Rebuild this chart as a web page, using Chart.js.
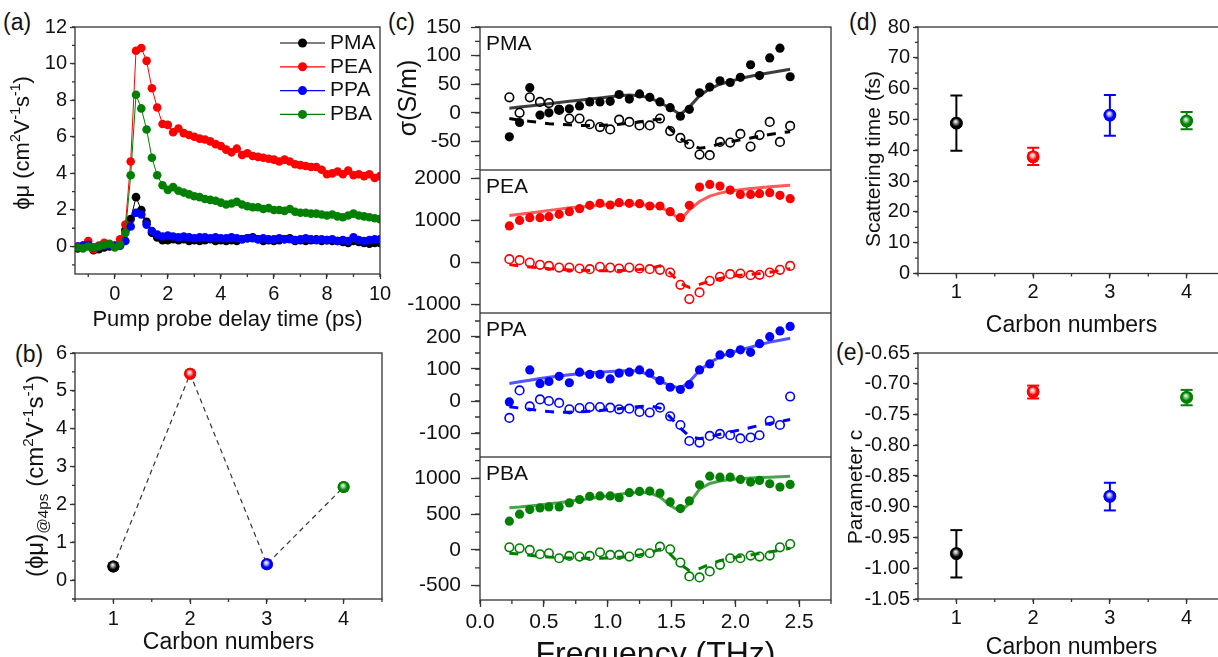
<!DOCTYPE html>
<html><head><meta charset="utf-8">
<script src="https://cdn.jsdelivr.net/npm/chart.js@4.4.1/dist/chart.umd.min.js"></script>
<style>
html,body{margin:0;padding:0;background:#fff;overflow:hidden;width:1218px;height:657px;position:relative;}
canvas{position:absolute;}
.pl{position:absolute;font-family:"Liberation Sans",Arial,sans-serif;font-size:23px;line-height:23px;color:#111;}
</style></head><body>
<div class="pl" style="left:3px;top:11px">(a)</div>
<div class="pl" style="left:15px;top:343px">(b)</div>
<div class="pl" style="left:388px;top:11px">(c)</div>
<div class="pl" style="left:849px;top:11px">(d)</div>
<div class="pl" style="left:836px;top:341px">(e)</div>
<canvas id="cA" width="395" height="334" style="left:0;top:0"></canvas>
<canvas id="cB" width="400" height="327" style="left:0;top:330px"></canvas>
<canvas id="cC1" width="460" height="170" style="left:380px;top:0"></canvas>
<canvas id="cC2" width="460" height="143" style="left:380px;top:170px"></canvas>
<canvas id="cC3" width="460" height="144" style="left:380px;top:313px"></canvas>
<canvas id="cC4" width="460" height="223" style="left:380px;top:457px"></canvas>
<canvas id="cD" width="400" height="340" style="left:830px;top:0"></canvas>
<canvas id="cE" width="400" height="340" style="left:830px;top:330px"></canvas>
<script>
// ================= DATA =================
const sampleNames = ['PMA', 'PEA', 'PPA', 'PBA'];

// (a) transient photoconductivity vs pump-probe delay
const delayTimes = [-1.4,-1.2,-1.0,-0.8,-0.6,-0.4,-0.2,0.0,0.2,0.4,0.6,0.8,1.0,1.2,1.4,1.6,1.8,2.0,2.2,2.4,2.6,2.8,3.0,3.2,3.4,3.6,3.8,4.0,4.2,4.4,4.6,4.8,5.0,5.2,5.4,5.6,5.8,6.0,6.2,6.4,6.6,6.8,7.0,7.2,7.4,7.6,7.8,8.0,8.2,8.4,8.6,8.8,9.0,9.2,9.4,9.6,9.8,10.0];
const phiMuPMA = [-0.1,-0.05,0.05,-0.2,-0.15,-0.05,0.0,0.05,0.1,0.9,1.5,2.7,2.0,1.35,0.75,0.5,0.35,0.35,0.4,0.35,0.4,0.3,0.35,0.3,0.35,0.4,0.3,0.35,0.3,0.35,0.3,0.4,0.45,0.5,0.4,0.3,0.35,0.3,0.35,0.4,0.45,0.3,0.35,0.3,0.35,0.4,0.3,0.35,0.3,0.3,0.25,0.2,0.3,0.25,0.2,0.15,0.2,0.2];
const phiMuPEA = [0.0,0.05,0.3,-0.15,0.05,0.2,0.1,0.0,0.4,1.2,4.65,10.7,10.85,10.15,8.65,7.6,6.7,6.65,6.25,6.45,6.2,6.1,6.0,5.9,5.85,5.75,5.6,5.5,5.3,5.15,5.35,5.0,5.1,4.95,4.9,4.85,4.8,4.75,4.65,4.75,4.65,4.5,4.45,4.4,4.35,4.35,4.2,3.95,4.0,4.1,3.95,4.15,3.9,3.95,3.85,3.95,3.75,3.85];
const phiMuPPA = [0.0,0.05,0.1,-0.05,0.0,0.05,0.1,0.0,0.05,0.3,1.1,1.85,1.75,1.2,0.85,0.65,0.55,0.6,0.55,0.5,0.55,0.5,0.45,0.5,0.5,0.45,0.5,0.45,0.45,0.5,0.45,0.4,0.45,0.45,0.4,0.45,0.4,0.4,0.45,0.4,0.4,0.35,0.4,0.45,0.4,0.35,0.4,0.35,0.4,0.3,0.35,0.3,0.5,0.35,0.3,0.35,0.4,0.4];
const phiMuPBA = [-0.05,-0.1,0.0,-0.05,0.0,0.1,0.15,-0.05,0.1,0.75,3.9,8.3,7.55,6.4,4.85,3.9,3.35,3.1,3.25,3.05,2.95,2.85,2.75,2.7,2.6,2.55,2.5,2.4,2.3,2.35,2.45,2.3,2.2,2.15,2.15,2.05,2.1,2.0,2.0,1.95,2.05,1.9,1.85,1.85,1.8,1.8,1.75,1.7,1.75,1.65,1.6,1.7,1.8,1.7,1.65,1.6,1.55,1.5];

// (b) photoconductivity at 4 ps
const carbonNumbers = [1, 2, 3, 4];
const phiMuAt4ps = [0.36, 5.45, 0.42, 2.46];

// (c) complex conductivity spectra
const freqTHz = [0.23,0.31,0.39,0.47,0.54,0.62,0.70,0.78,0.86,0.94,1.02,1.09,1.17,1.25,1.33,1.41,1.49,1.57,1.64,1.72,1.80,1.88,1.96,2.04,2.12,2.19,2.27,2.35,2.43];
const reSigmaPMA = [-42,-17,44,-4,0,6,7,12,19,19,20,32,24,33,27,19,9,-6,6,35,45,56,53,62,84,65,96,113,63];
const imSigmaPMA = [27,0,27,19,17,5,-10,-10,-20,-25,-29,-12,-16,-22,-22,-10,-32,-44,-55,-73,-74,-51,-52,-37,-59,-39,-16,-51,-23];
const reFitPMA = [8,10,12,14,16,18,20,22,24,26,28,30,31,30,26,18,8,-3,10,30,42,50,55,60,64,67,70,73,76];
const imFitPMA = [-10,-13,-15,-17,-19,-20,-21,-22,-22,-22,-21,-20,-18,-16,-13,-11,-28,-45,-55,-62,-60,-54,-51,-47,-44,-41,-38,-35,-33];
const reSigmaPEA = [870,1000,1067,1067,1090,1146,1210,1280,1360,1407,1368,1423,1407,1400,1344,1344,1210,1067,1360,1795,1858,1818,1723,1620,1620,1636,1660,1597,1518];
const imSigmaPEA = [80,55,0,-55,-80,-120,-120,-142,-158,-103,-120,-142,-120,-142,-158,-174,-237,-530,-870,-711,-435,-340,-277,-261,-300,-292,-237,-174,-80];
const reFitPEA = [1120,1150,1180,1210,1240,1270,1300,1320,1340,1360,1380,1390,1390,1380,1360,1320,1200,1010,1250,1450,1580,1650,1700,1730,1760,1780,1800,1820,1840];
const imFitPEA = [-50,-80,-105,-125,-145,-160,-175,-185,-190,-195,-195,-190,-180,-165,-140,-80,-250,-500,-590,-520,-440,-380,-330,-300,-280,-260,-230,-190,-150];
const reSigmaPPA = [-3,null,97,54,61,77,57,90,83,83,69,87,90,97,87,64,43,36,51,97,116,144,149,160,152,179,201,219,233];
const imSigmaPPA = [-53,33,-17,5,0,-6,-26,-22,-19,-19,-21,-26,-24,-34,-36,-21,-48,-75,-125,-130,-109,-103,-107,-117,-114,-107,-62,-75,14];
const reFitPPA = [55,60,65,70,74,78,82,85,88,90,92,94,95,93,80,62,48,40,60,95,120,138,150,160,168,176,184,190,196];
const imFitPPA = [-18,-22,-26,-30,-33,-35,-35,-34,-32,-30,-27,-24,-20,-17,-15,-22,-50,-85,-110,-118,-112,-104,-97,-90,-83,-76,-70,-64,-58];
const reSigmaPBA = [403,500,565,588,602,602,657,704,750,755,755,731,801,819,824,796,671,579,685,912,1032,1018,1018,986,949,972,926,880,917];
const imSigmaPBA = [37,23,0,-60,-46,-116,-83,-93,-83,-32,-69,-69,-93,-46,-46,46,9,-176,-370,-384,-301,-208,-116,-116,-79,-93,-79,37,83];
const reFitPBA = [590,600,615,630,645,660,680,700,720,740,760,780,795,805,800,740,620,540,650,850,930,965,985,995,1005,1012,1018,1024,1030];
const imFitPBA = [-45,-60,-75,-88,-98,-106,-112,-115,-116,-115,-110,-102,-90,-70,-40,10,-60,-200,-290,-260,-200,-150,-115,-90,-70,-50,-30,-5,25];

// (d) scattering time with error bounds
const scatteringTime = [48.8, 37.9, 51.4, 49.5];
const scatteringTimeLow = [39.8, 35.2, 44.7, 46.8];
const scatteringTimeHigh = [57.8, 40.8, 57.9, 52.4];

// (e) parameter c with error bounds
const parameterC = [-0.976, -0.713, -0.883, -0.722];
const parameterCLow = [-1.015, -0.724, -0.906, -0.735];
const parameterCHigh = [-0.938, -0.703, -0.861, -0.710];

// tick values
const ticksA_x = [0, 2, 4, 6, 8, 10];
const ticksA_y = [0, 2, 4, 6, 8, 10, 12];
const ticksCarbon = [1, 2, 3, 4];
const ticksB_y = [0, 1, 2, 3, 4, 5, 6];
const ticksFreq = [0, 0.5, 1.0, 1.5, 2.0, 2.5];
const ticksPMA_y = [-50, 0, 50, 100, 150];
const ticksPEA_y = [-1000, 0, 1000, 2000];
const ticksPPA_y = [-100, 0, 100, 200];
const ticksPBA_y = [-500, 0, 500, 1000];
const ticksD_y = [0, 10, 20, 30, 40, 50, 60, 70, 80];
const ticksE_y = [-1.05, -1.00, -0.95, -0.90, -0.85, -0.80, -0.75, -0.70, -0.65];

// ================= STYLE =================
const FONT = '"Liberation Sans", Arial, Helvetica, sans-serif';
const INK = '#111';
const AXIS = '#333';
const seriesColors = ['#000000', '#ff0000', '#0000ff', '#008000'];
const seriesLight = ['#9a9a9a', '#ffb0b0', '#b0b0ff', '#90d090'];
const fitColors = ['rgba(40,40,40,0.9)', 'rgba(255,50,50,0.8)', 'rgba(40,40,255,0.8)', 'rgba(30,140,30,0.8)'];
Chart.defaults.font.family = FONT;
Chart.defaults.color = INK;

const pts = (xs, ys) => xs.map((x, i) => ({x: x, y: ys[i]}));

// ================= PLUGINS =================
const framePlugin = {
  id: 'frameTicks',
  afterDraw(chart, args, o) {
    const {ctx, chartArea: a, scales} = chart;
    ctx.save();
    ctx.strokeStyle = AXIS;
    ctx.lineWidth = o.lw || 1.3;
    ctx.strokeRect(a.left, a.top, a.right - a.left, a.bottom - a.top);
    ['x', 'y'].forEach(id => {
      const m = o[id];
      if (!m) return;
      const s = scales[id];
      const k0 = Math.ceil(s.min / m.step - 1e-6), k1 = Math.floor(s.max / m.step + 1e-6);
      ctx.beginPath();
      for (let k = k0; k <= k1; k++) {
        const p = s.getPixelForValue(k * m.step);
        if (id === 'x') { ctx.moveTo(p, a.bottom); ctx.lineTo(p, a.bottom + m.len); }
        else { ctx.moveTo(a.left, p); ctx.lineTo(a.left - m.len, p); }
      }
      ctx.stroke();
    });
    ctx.restore();
  }
};

// shaded-sphere look for markers: drawn on the library's own point elements
const spherePlugin = {
  id: 'sphere',
  afterDatasetsDraw(chart) {
    const ctx = chart.ctx;
    chart.data.datasets.forEach((ds, di) => {
      if (!ds.sphere) return;
      const meta = chart.getDatasetMeta(di);
      meta.data.forEach((el, i) => {
        if (!isFinite(el.x) || !isFinite(el.y)) return;
        const r = ds.pointRadius;
        const col = seriesColors[i % 4];
        const g = ctx.createRadialGradient(el.x - r * 0.15, el.y - r * 0.3, 0, el.x, el.y, r);
        g.addColorStop(0, '#ffffff');
        g.addColorStop(0.3, seriesLight[i % 4]);
        g.addColorStop(0.65, col);
        g.addColorStop(1, col);
        ctx.save();
        ctx.fillStyle = g;
        ctx.beginPath(); ctx.arc(el.x, el.y, r, 0, Math.PI * 2); ctx.fill();
        ctx.restore();
      });
    });
  }
};

const richTitlePlugin = {
  id: 'richY',
  afterDraw(chart, args, o) {
    if (!o || !o.segs) return;
    const ctx = chart.ctx;
    ctx.save();
    ctx.translate(o.x, o.y);
    ctx.rotate(-Math.PI / 2);
    ctx.fillStyle = INK;
    ctx.textBaseline = 'alphabetic';
    let total = 0;
    const parts = o.segs.map(s => {
      const size = s.k ? o.size * 0.64 : o.size;
      ctx.font = size + 'px ' + FONT;
      const w = ctx.measureText(s.t).width;
      total += w;
      return {t: s.t, k: s.k, size: size, w: w};
    });
    let x = -total / 2;
    const base = o.size * 0.36;
    parts.forEach(p => {
      ctx.font = p.size + 'px ' + FONT;
      const dy = p.k === 'sup' ? -o.size * 0.4 : (p.k === 'sub' ? o.size * 0.22 : 0);
      ctx.fillText(p.t, x, base + dy);
      x += p.w;
    });
    ctx.restore();
  }
};

const legendPlugin = {
  id: 'legendA',
  afterDraw(chart, args, o) {
    if (!o || !o.x0) return;
    const ctx = chart.ctx;
    ctx.save();
    ctx.font = o.size + 'px ' + FONT;
    ctx.textBaseline = 'middle';
    chart.data.datasets.forEach((ds, i) => {
      const y = o.y0 + i * o.dy;
      ctx.strokeStyle = ds.borderColor; ctx.lineWidth = 1.2;
      ctx.beginPath(); ctx.moveTo(o.x0, y); ctx.lineTo(o.x1, y); ctx.stroke();
      ctx.fillStyle = ds.pointBackgroundColor;
      ctx.beginPath(); ctx.arc((o.x0 + o.x1) / 2, y, o.r, 0, Math.PI * 2); ctx.fill();
      ctx.fillStyle = INK;
      ctx.fillText(ds.label, o.tx, y);
    });
    ctx.restore();
  }
};

const panelTextPlugin = {
  id: 'panelText',
  afterDraw(chart, args, o) {
    if (!o || !o.text) return;
    const ctx = chart.ctx, a = chart.chartArea;
    ctx.save();
    ctx.font = o.size + 'px ' + FONT;
    ctx.fillStyle = INK;
    ctx.textBaseline = 'middle';
    ctx.fillText(o.text, a.left + 6, a.top + 17);
    ctx.restore();
  }
};

function axis(o) {
  return {
    type: 'linear', min: o.min, max: o.max, display: o.display !== false,
    grid: {display: true, drawOnChartArea: false, drawTicks: true, tickLength: o.tl, tickWidth: 1.3, tickColor: AXIS},
    border: {display: false},
    ticks: {autoSkip: false, maxRotation: 0, minRotation: 0, padding: o.pad, font: {size: o.fs}, color: INK,
            callback: o.fmt || (v => String(v))},
    title: o.title ? {display: true, text: o.title, font: {size: o.tfs}, color: INK, padding: o.tpad} : {display: false},
    afterBuildTicks: s => { s.ticks = o.ticks.map(v => ({value: v})); },
    afterFit: s => {
      if (o.horiz) s.height = o.size; else s.width = o.size;
      s.paddingTop = 0; s.paddingBottom = 0; s.paddingLeft = 0; s.paddingRight = 0;
    }
  };
}

const baseOpts = {responsive: false, animation: false, events: []};
const lay = (t, r) => ({autoPadding: false, padding: {top: t, right: r, bottom: 0, left: 0}});

// ================= (a) =================
const aSeries = [phiMuPMA, phiMuPEA, phiMuPPA, phiMuPBA];
new Chart(document.getElementById('cA'), {
  type: 'scatter',
  data: {datasets: aSeries.map((vals, i) => ({
    label: sampleNames[i], data: pts(delayTimes, vals), showLine: true,
    borderColor: seriesColors[i], borderWidth: 1, pointRadius: 4.3, pointBorderWidth: 0,
    pointBackgroundColor: seriesColors[i], order: 4 - i
  }))},
  options: Object.assign({}, baseOpts, {
    layout: lay(27, 15),
    scales: {
      x: axis({min: -1.5, max: 10, ticks: ticksA_x, tl: 5, pad: 3, fs: 20, horiz: true, size: 60,
               title: 'Pump probe delay time (ps)', tfs: 22, tpad: 1}),
      y: axis({min: -1.5, max: 12, ticks: ticksA_y, tl: 5, pad: 3, fs: 20, size: 75})
    },
    plugins: {legend: {display: false}, tooltip: {enabled: false},
      frameTicks: {x: {step: 1, len: 3}, y: {step: 1, len: 3}},
      richY: {x: 21, y: 143, size: 22, segs: [{t: 'ϕμ (cm'}, {t: '2', k: 'sup'}, {t: 'V'}, {t: '-1', k: 'sup'}, {t: 's'}, {t: '-1', k: 'sup'}, {t: ')'}]},
      legendA: {x0: 280, x1: 325, r: 4.5, tx: 330, y0: 43, dy: 23.8, size: 21}
    }
  }),
  plugins: [framePlugin, richTitlePlugin, legendPlugin]
});

// ================= (b) =================
new Chart(document.getElementById('cB'), {
  type: 'scatter',
  data: {datasets: [{
    data: pts(carbonNumbers, phiMuAt4ps), showLine: true, borderColor: '#333', borderWidth: 1.2, borderDash: [5, 4],
    pointRadius: 6, pointBorderWidth: 0, pointBackgroundColor: seriesColors, sphere: true
  }]},
  options: Object.assign({}, baseOpts, {
    layout: lay(23, 18),
    scales: {
      x: axis({min: 0.5, max: 4.5, ticks: ticksCarbon, tl: 5, pad: 3, fs: 20, horiz: true, size: 58,
               title: 'Carbon numbers', tfs: 23, tpad: 1}),
      y: axis({min: -0.5, max: 6, ticks: ticksB_y, tl: 5, pad: 3, fs: 20, size: 75})
    },
    plugins: {legend: {display: false}, tooltip: {enabled: false},
      frameTicks: {x: {step: 0.5, len: 3}, y: {step: 0.5, len: 3}},
      richY: {x: 34, y: 146, size: 24, segs: [{t: '(ϕμ)'}, {t: '@4ps', k: 'sub'}, {t: ' (cm'}, {t: '2', k: 'sup'}, {t: 'V'}, {t: '-1', k: 'sup'}, {t: 's'}, {t: '-1', k: 'sup'}, {t: ')'}]}
    }
  }),
  plugins: [framePlugin, spherePlugin, richTitlePlugin]
});

// ================= (c) =================
function cPanel(id, o) {
  const col = seriesColors[o.idx];
  const xOpts = o.showX
    ? axis({min: 0, max: 2.75, ticks: ticksFreq, tl: 7, pad: 3, fs: 21, horiz: true, size: 80,
            fmt: v => v.toFixed(1), title: 'Frequency (THz)', tfs: 32, tpad: 6})
    : Object.assign(axis({min: 0, max: 2.75, ticks: ticksFreq, tl: 7, pad: 3, fs: 21, horiz: true, size: 0}), {display: false});
  return new Chart(document.getElementById(id), {
    type: 'scatter',
    data: {datasets: [
      {data: pts(freqTHz, o.re), pointRadius: 4.6, pointBackgroundColor: col, borderColor: col, pointBorderWidth: 0, showLine: false, order: 0},
      {data: pts(freqTHz, o.im), pointRadius: 4.3, pointBackgroundColor: 'rgba(255,255,255,0)', borderColor: col, pointBorderColor: col, pointBorderWidth: 1.6, showLine: false, order: 0},
      {data: pts(freqTHz, o.reFit), showLine: true, borderColor: fitColors[o.idx], borderWidth: 3, pointRadius: 0, order: 1},
      {data: pts(freqTHz, o.imFit), showLine: true, borderColor: col, borderWidth: 3, borderDash: [9, 9], pointRadius: 0, order: 1}
    ]},
    options: Object.assign({}, baseOpts, {
      layout: lay(o.pt, 9),
      scales: {
        x: xOpts,
        y: axis({min: o.min, max: o.max, ticks: o.ticks, tl: 9, pad: 10, fs: 21, size: 100})
      },
      plugins: {legend: {display: false}, tooltip: {enabled: false},
        frameTicks: {x: o.showX ? {step: 0.25, len: 4} : null, y: {step: o.minor, len: 5}},
        panelText: {text: sampleNames[o.idx], size: 21},
        richY: o.ytitle ? {x: 27, y: 98, size: 25, segs: [{t: o.ytitle}]} : {}
      }
    }),
    plugins: [framePlugin, panelTextPlugin, richTitlePlugin]
  });
}
cPanel('cC1', {idx: 0, re: reSigmaPMA, im: imSigmaPMA, reFit: reFitPMA, imFit: imFitPMA, min: -100, max: 150, ticks: ticksPMA_y, minor: 25, pt: 27, ytitle: 'σ(S/m)'});
cPanel('cC2', {idx: 1, re: reSigmaPEA, im: imSigmaPEA, reFit: reFitPEA, imFit: imFitPEA, min: -1200, max: 2200, ticks: ticksPEA_y, minor: 500, pt: 0});
cPanel('cC3', {idx: 2, re: reSigmaPPA, im: imSigmaPPA, reFit: reFitPPA, imFit: imFitPPA, min: -175, max: 275, ticks: ticksPPA_y, minor: 50, pt: 0});
cPanel('cC4', {idx: 3, re: reSigmaPBA, im: imSigmaPBA, reFit: reFitPBA, imFit: imFitPBA, min: -700, max: 1300, ticks: ticksPBA_y, minor: 250, pt: 0, showX: true});

// ================= (d), (e) =================
function errPanel(id, o) {
  const bars = carbonNumbers.map((c, i) => ({
    data: [{x: c, y: o.lo[i]}, {x: c, y: o.hi[i]}], showLine: true, borderColor: seriesColors[i], borderWidth: 2,
    pointStyle: 'line', pointRadius: 6, pointBorderColor: seriesColors[i], pointBorderWidth: 2, order: 1
  }));
  const main = {data: pts(carbonNumbers, o.vals), showLine: false, pointRadius: 6.3, pointBorderWidth: 0,
                pointBackgroundColor: seriesColors, sphere: true, order: 0};
  return new Chart(document.getElementById(id), {
    type: 'scatter',
    data: {datasets: [main].concat(bars)},
    options: Object.assign({}, baseOpts, {
      layout: lay(o.pt, 5),
      scales: {
        x: axis({min: 0.5, max: 4.5, ticks: ticksCarbon, tl: 5, pad: 2, fs: 20, horiz: true, size: o.xh,
                 title: 'Carbon numbers', tfs: 23, tpad: o.xtpad}),
        y: axis({min: o.min, max: o.max, ticks: o.ticks, tl: 5, pad: 3, fs: 20, size: 88, fmt: o.fmt})
      },
      plugins: {legend: {display: false}, tooltip: {enabled: false},
        frameTicks: {x: {step: 0.5, len: 3}, y: {step: o.minor, len: 3}},
        richY: {x: o.tx, y: o.ty, size: 21, segs: [{t: o.ytitle}]}
      }
    }),
    plugins: [framePlugin, spherePlugin, richTitlePlugin]
  });
}
errPanel('cD', {vals: scatteringTime, lo: scatteringTimeLow, hi: scatteringTimeHigh, min: 0, max: 80, ticks: ticksD_y, minor: 5,
  pt: 27, xh: 66.5, xtpad: 1, ytitle: 'Scattering time (fs)', tx: 42, ty: 159});
errPanel('cE', {vals: parameterC, lo: parameterCLow, hi: parameterCHigh, min: -1.05, max: -0.65, ticks: ticksE_y, minor: 0.025,
  pt: 23, xh: 71, xtpad: 9, ytitle: 'Parameter c', tx: 24, ty: 157, fmt: v => v.toFixed(2)});
</script>
</body></html>
